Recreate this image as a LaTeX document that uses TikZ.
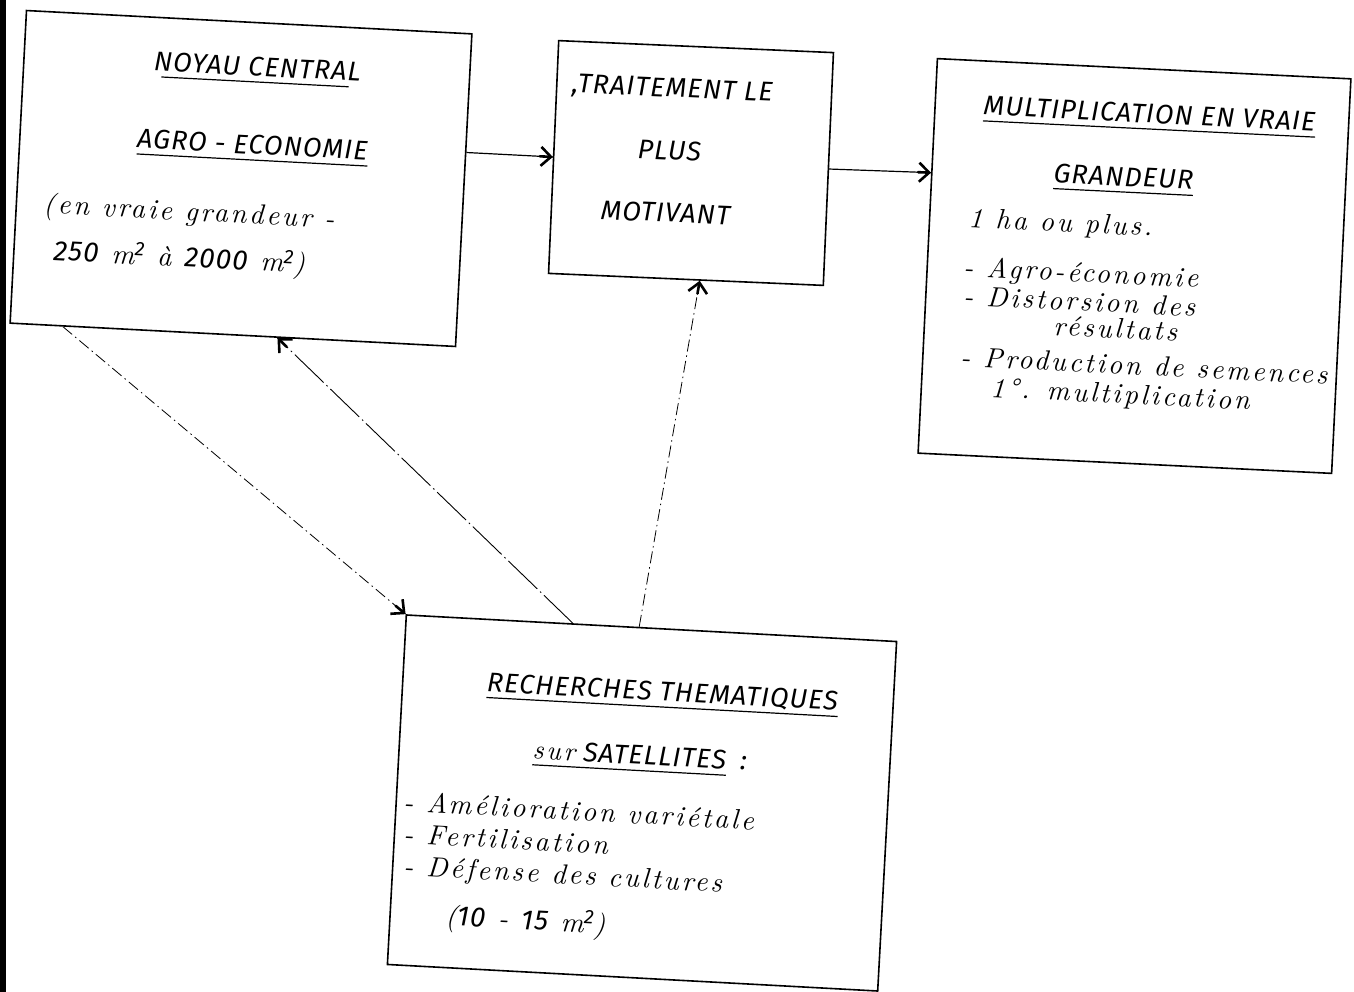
\documentclass[tikz,border=0pt]{standalone}
\usepackage{fontspec}
\newfontfamily\letterfont{Fira Sans}[LetterSpace=4]
\newfontfamily\cursivefont{lmroman10-italic.otf}[LetterSpace=10]
\usetikzlibrary{arrows.meta,calc}

\tikzset{
  frame/.style={draw, line width=1.6pt, inner sep=0pt},
  caps/.style={font=\letterfont\itshape\fontsize{27}{32}\selectfont, inner sep=0pt},
  hand/.style={font=\cursivefont\fontsize{28}{32}\selectfont, inner sep=0pt,
    text height=17pt, text depth=4pt},
  uline/.style={line width=1.2pt},
  link/.style={line width=1.2pt},
  dlink/.style={line width=0.8pt, dash pattern=on 12pt off 4pt on 1.5pt off 4pt},
  llink/.style={line width=0.9pt, dash pattern=on 40pt off 4pt on 1.5pt off 4pt},
  % heavy hand-drawn barb at the end of a connector
  barbhead/.style={line width=2.6pt, line cap=round,
    -{Straight Barb[length=10pt,width=19pt]}}
}
\newcommand{\lt}[1]{{\letterfont\itshape #1}}

\begin{document}
\begin{tikzpicture}[x=1pt,y=-1pt]
\useasboundingbox (0,0) rectangle (1354,992);
\fill[white] (0,0) rectangle (1354,992);
\fill[black] (0,0) rectangle (6,992);

% boxes
\node[frame, rotate=-3.0, minimum width=446pt, minimum height=313pt] (core) at (241,178.5) {};
\node[frame, rotate=-2.5, minimum width=275pt, minimum height=233pt] (best) at (691,163) {};
\node[frame, rotate=-2.8, minimum width=414pt, minimum height=395pt] (mult) at (1134.5,266) {};
\node[frame, rotate=-3.1, minimum width=491pt, minimum height=350pt] (sat) at (642,803) {};

% central core
\node[caps, rotate=-3, anchor=base] (coreA) at (257,76) {NOYAU CENTRAL};
\node[caps, rotate=-3, anchor=base] (coreB) at (252,154) {AGRO - ECONOMIE};
\node[hand, rotate=-3, anchor=base west] (coreC) at (43,213) {(en vraie grandeur -};
\node[hand, rotate=-3, anchor=base west] (coreD) at (53,260)
  {\lt{250} m\textsuperscript{\lt{2}} à \lt{2000} m\textsuperscript{\lt{2}})};
\draw[uline, shorten <=8pt, shorten >=12pt] ([yshift=-6pt]coreA.base west) -- ([yshift=-6pt]coreA.base east);
\draw[uline] ([yshift=-6pt]coreB.base west) -- ([yshift=-6pt]coreB.base east);

% best treatment
\node[caps, rotate=-2.5, anchor=base] (bestA) at (672,97) {,TRAITEMENT LE};
\node[caps, rotate=-2.5, anchor=base] (bestB) at (669,160) {PLUS};
\node[caps, rotate=-2.5, anchor=base] (bestC) at (665,222) {MOTIVANT};

% full-scale multiplication
\node[caps, rotate=-2.8, anchor=base] (multA) at (1149,123) {MULTIPLICATION EN VRAIE};
\node[caps, rotate=-2.8, anchor=base] (multB) at (1123,186) {GRANDEUR};
\draw[uline] ([yshift=-6pt]multA.base west) -- ([yshift=-6pt]multA.base east);
\draw[uline] ([yshift=-6pt]multB.base west) -- ([yshift=-6pt]multB.base east);
\node[hand, rotate=-2.8, anchor=base west] (multC) at (968,227) {1 ha ou plus.};
\node[hand, rotate=-2.8, anchor=base west] (multD) at (963,276) {- Agro-économie};
\node[hand, rotate=-2.8, anchor=base west] (multE) at (963,305) {- Distorsion des};
\node[hand, rotate=-2.8, anchor=base west] (multF) at (1053,335) {résultats};
\node[hand, rotate=-2.8, anchor=base west] (multG) at (960,366) {- Production de semences};
\node[hand, rotate=-2.8, anchor=base west] (multH) at (990,397) {1°. multiplication};

% thematic research
\node[caps, rotate=-3.1, anchor=base] (satA) at (662,701) {RECHERCHES THEMATIQUES};
\node[caps, rotate=-3.1, anchor=base] (satB) at (629,764) {{\cursivefont sur} SATELLITES};
\node[caps, rotate=-3.1, anchor=base west] (satColon) at ([xshift=14pt]satB.base east) {:};
\draw[uline] ([yshift=-6pt]satA.base west) -- ([yshift=-6pt]satA.base east);
\draw[uline] ([yshift=-6pt]satB.base west) -- ([yshift=-6pt]satB.base east);
\node[hand, rotate=-3.1, anchor=base west] (satC) at (403,811) {- Amélioration variétale};
\node[hand, rotate=-3.1, anchor=base west] (satD) at (403,843) {- Fertilisation};
\node[hand, rotate=-3.1, anchor=base west] (satE) at (403,875) {- Défense des cultures};
\node[hand, rotate=-3.1, anchor=base west] (satF) at (445,925)
  {(\lt{10} - \lt{15} m\textsuperscript{\lt{2}})};

% connector end points on the box edges
\coordinate (c1s) at ($(core.north east)!0.38!(core.south east)$);
\coordinate (c1e) at (best.west);
\coordinate (c2s) at (best.east);
\coordinate (c2e) at ($(mult.north west)!0.29!(mult.south west)$);
\coordinate (c3s) at ($(core.south west)!0.12!(core.south east)$);
\coordinate (c3e) at (sat.north west);
\coordinate (c4s) at ($(sat.north west)!0.34!(sat.north east)$);
\coordinate (c4e) at ($(core.south west)!0.6!(core.south east)$);
\coordinate (c5s) at ($(sat.north west)!0.475!(sat.north east)$);
\coordinate (c5e) at ($(best.south west)!0.55!(best.south east)$);

% connectors
\draw[link] (c1s) -- (c1e);
\draw[link] (c2s) -- (c2e);
\draw[dlink] (c3s) -- (c3e);
\draw[llink] (c4s) -- (c4e);
\draw[dlink] (c5s) -- (c5e);

% arrowheads
\foreach \s/\e in {c1s/c1e, c2s/c2e, c3s/c3e, c4s/c4e, c5s/c5e}
  \draw[barbhead] ($(\e)!13pt!(\s)$) -- (\e);
\end{tikzpicture}
\end{document}
